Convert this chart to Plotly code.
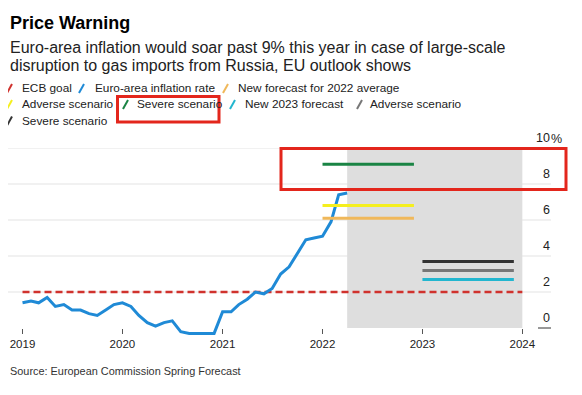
import pandas as pd
import plotly.graph_objects as go

# ---------------- data ----------------
months = pd.date_range("2019-01-01", "2022-04-01", freq="MS")
inflation = [1.4, 1.5, 1.4, 1.7, 1.2, 1.3, 1.0, 1.0, 0.8, 0.7, 1.0, 1.3,
             1.4, 1.2, 0.7, 0.3, 0.1, 0.3, 0.4, -0.2, -0.3, -0.3, -0.3, -0.3,
             0.9, 0.9, 1.3, 1.6, 2.0, 1.9, 2.2, 3.0, 3.4, 4.1, 4.9, 5.0,
             5.1, 5.9, 7.4, 7.5]

ecb_goal_x = ["2019-01-01", "2024-01-01"]
ecb_goal = [2.0, 2.0]

span_2022 = ["2022-01-01", "2022-12-01"]
span_2023 = ["2023-01-01", "2023-12-01"]
forecast_2022 = 6.1
adverse_2022 = 6.8
severe_2022 = 9.1
forecast_2023 = 2.7
adverse_2023 = 3.2
severe_2023 = 3.7

forecast_period = ["2022-04-01", "2024-01-01"]

year_ticks = ["2019-01-01", "2020-01-01", "2021-01-01", "2022-01-01", "2023-01-01", "2024-01-01"]
year_labels = ["2019", "2020", "2021", "2022", "2023", "2024"]
y_ticks = [0, 2, 4, 6, 8, 10]
y_labels = ["0", "2", "4", "6", "8", "10"]
grid_vals = [2, 4, 6, 8, 10]

legend_items = [
    # (label, color, slash_x, text_x, row_center_y)  -- screen pixels
    ("ECB goal", "#d0322d", 7, 21, 88.5),
    ("Euro-area inflation rate", "#1f8ad6", 79, 94, 88.5),
    ("New forecast for 2022 average", "#f0b85a", 223, 237, 88.5),
    ("Adverse scenario", "#f5ef1e", 7, 21, 104.5),
    ("Severe scenario", "#1a8444", 123, 136, 104.5),
    ("New 2023 forecast", "#23b6cf", 230, 244, 104.5),
    ("Adverse scenario", "#777777", 357, 369, 104.5),
    ("Severe scenario", "#333333", 7, 21, 121),
]

# ---------------- geometry ----------------
OFF = 8                      # page body margin
W, H = 582 - OFF, 395 - OFF
L, R, T, B = 0, 29, 140, 58
PW, PH = W - L - R, H - T - B
BOTTOM = OFF + H - B         # screen y of plot bottom
FONT = "Liberation Sans, Arial, Helvetica, sans-serif"


def fx(x):
    return (x - OFF - L) / PW


def fy(y):
    return (BOTTOM - y) / PH


fig = go.Figure()

fig.add_trace(go.Scatter(x=ecb_goal_x, y=ecb_goal, mode="lines",
                         line=dict(color="#d0322d", width=2.6, dash="7px,4px"),
                         hoverinfo="skip"))
fig.add_trace(go.Scatter(x=months, y=inflation, mode="lines",
                         line=dict(color="#1f8ad6", width=3), hoverinfo="skip"))

for val, col in [(severe_2022, "#1a8444"), (adverse_2022, "#f5ef1e"), (forecast_2022, "#f0b85a")]:
    fig.add_trace(go.Scatter(x=span_2022, y=[val, val], mode="lines",
                             line=dict(color=col, width=3), hoverinfo="skip"))
for val, col in [(severe_2023, "#333333"), (adverse_2023, "#777777"), (forecast_2023, "#23b6cf")]:
    fig.add_trace(go.Scatter(x=span_2023, y=[val, val], mode="lines",
                             line=dict(color=col, width=3), hoverinfo="skip"))

shapes = []
shapes.append(dict(type="rect", xref="x", yref="y", x0=forecast_period[0], x1=forecast_period[1],
                   y0=0, y1=10, fillcolor="#dedede", line=dict(width=0), layer="below"))
for v in grid_vals:
    shapes.append(dict(type="line", xref="paper", yref="y", x0=fx(6), x1=fx(551), y0=v, y1=v,
                       line=dict(color="#e3e3e3", width=1), layer="below"))
shapes.append(dict(type="line", xref="paper", yref="y", x0=fx(538), x1=fx(551), y0=0, y1=0,
                   line=dict(color="#333333", width=1)))
for label, col, sx, tx, cy in legend_items:
    shapes.append(dict(type="line", xref="paper", yref="paper",
                       x0=fx(sx), x1=fx(sx + 5), y0=fy(cy + 4.5), y1=fy(cy - 4.5),
                       line=dict(color=col, width=2)))
shapes.append(dict(type="rect", xref="paper", yref="paper",
                   x0=fx(117.5), x1=fx(219), y0=fy(122), y1=fy(96.5),
                   line=dict(color="#e3261c", width=3)))
shapes.append(dict(type="rect", xref="paper", yref="paper",
                   x0=fx(281), x1=fx(566), y0=fy(189.5), y1=fy(148.5),
                   line=dict(color="#e3261c", width=3)))

annotations = []
annotations.append(dict(text="<b>Price Warning</b>", xref="paper", yref="paper",
                        x=fx(8), y=fy(23), xanchor="left", yanchor="middle", showarrow=False,
                        font=dict(family=FONT, size=18, color="#000000")))
annotations.append(dict(text="Euro-area inflation would soar past 9% this year in case of large-scale",
                        xref="paper", yref="paper", x=fx(8), y=fy(47), xanchor="left",
                        yanchor="middle", showarrow=False,
                        font=dict(family=FONT, size=16, color="#222222")))
annotations.append(dict(text="disruption to gas imports from Russia, EU outlook shows",
                        xref="paper", yref="paper", x=fx(8), y=fy(65), xanchor="left",
                        yanchor="middle", showarrow=False,
                        font=dict(family=FONT, size=16, color="#222222")))
for label, col, sx, tx, cy in legend_items:
    annotations.append(dict(text=label, xref="paper", yref="paper", x=fx(tx - 1), y=fy(cy),
                            xanchor="left", yanchor="middle", showarrow=False,
                            font=dict(family=FONT, size=11.8, color="#222222")))
annotations.append(dict(text="Source: European Commission Spring Forecast", xref="paper", yref="paper",
                        x=fx(8), y=fy(370.5), xanchor="left", yanchor="middle", showarrow=False,
                        font=dict(family=FONT, size=10.9, color="#333333")))

fig.update_layout(
    width=W, height=H,
    margin=dict(l=L, r=R, t=T, b=B, pad=0),
    paper_bgcolor="white", plot_bgcolor="white",
    showlegend=False,
    shapes=shapes, annotations=annotations,
    xaxis=dict(type="date", range=["2018-11-09", "2024-04-22"],
               tickvals=year_ticks, ticktext=year_labels,
               anchor="free", position=(BOTTOM - 328) / PH,
               ticks="outside", ticklen=5, tickcolor="#555555", tickwidth=1,
               showgrid=False, zeroline=False, showline=False,
               tickfont=dict(family=FONT, size=11.5, color="#222222")),
    yaxis=dict(range=[-0.5, 10], side="right", tickvals=y_ticks, ticktext=y_labels,
               ticklabelposition="inside top", ticklabeloverflow="allow", ticklabelshift=-2,
               ticks="", showgrid=False, zeroline=False, showline=False,
               tickfont=dict(family=FONT, size=12.5, color="#222222")),
)

fig.add_annotation(text="%", xref="paper", yref="y", x=fx(548.5), y=10, xanchor="left",
                   yanchor="bottom", showarrow=False, yshift=0,
                   font=dict(family=FONT, size=12.5, color="#222222"))

fig.write_html("out.html")
